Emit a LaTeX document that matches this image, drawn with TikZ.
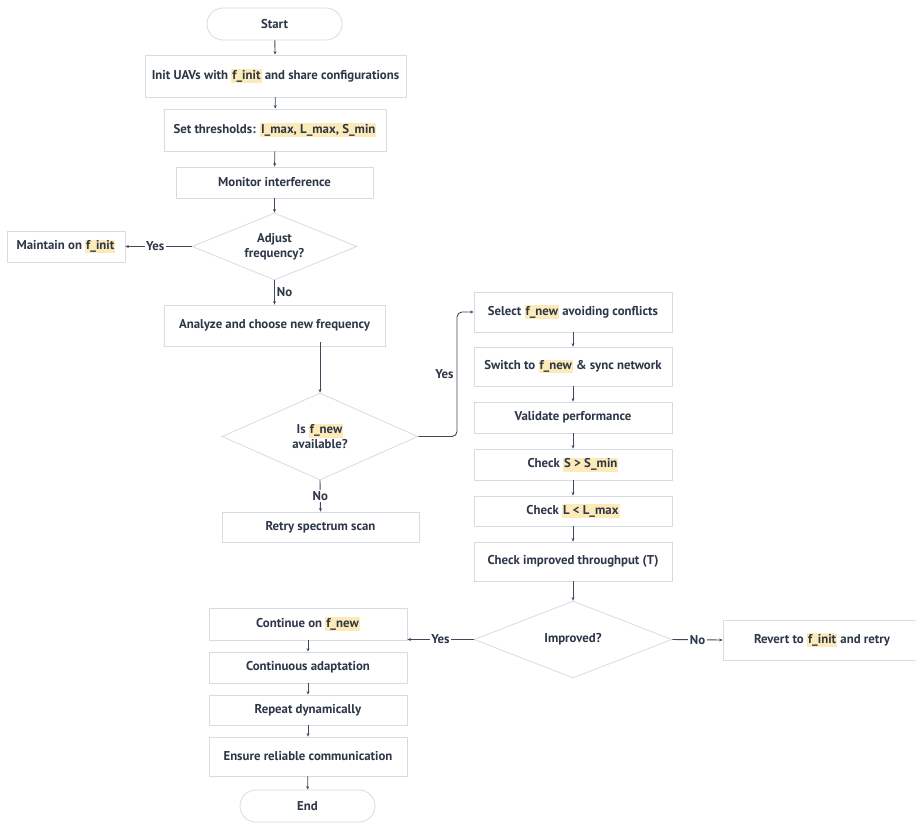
\documentclass[tikz,border=0pt]{standalone}
\usepackage{fontspec}
\setmainfont{PT Sans}
\usetikzlibrary{shapes.geometric,arrows.meta}
\definecolor{txt}{HTML}{2D3748}
\definecolor{bd}{HTML}{D5DCE4}
\definecolor{ln}{HTML}{3E4A5B}
\definecolor{hlc}{HTML}{FCEBB8}
\newcommand{\hl}[1]{{\setlength{\fboxsep}{1pt}\colorbox{hlc}{\vphantom{Ig}#1}}}
\begin{document}
\begin{tikzpicture}[x=1pt,y=-1pt,
  every node/.style={text=txt, font=\bfseries\fontsize{12.8}{15}\selectfont},
  box/.style={draw=bd, line width=0.8pt, fill=white, rectangle, inner sep=2pt},
  term/.style={draw=bd, line width=0.8pt, fill=white, rectangle, rounded corners=16pt, inner sep=2pt},
  dec/.style={draw=bd, line width=0.8pt, fill=white, diamond, inner sep=0pt, align=center},
  arr/.style={draw=ln, line width=0.9pt, -{Stealth[length=3.5pt,width=3pt]}},
  lbl/.style={fill=white, inner sep=1.5pt},
]
\useasboundingbox (0,0) rectangle (916,823);
\clip (0,0) rectangle (916,823);
% nodes
\node[term, minimum width=135pt, minimum height=32pt] (start) at (274.5,24) {Start};
\node[box, minimum width=261pt, minimum height=42pt] (init) at (275.5,76) {Init UAVs with \hl{f\_init} and share configurations};
\node[box, minimum width=222pt, minimum height=42pt] (thr) at (275,130) {Set thresholds: \hl{I\_max, L\_max, S\_min}};
\node[box, minimum width=197pt, minimum height=31pt] (mon) at (274.5,182.5) {Monitor interference};
\node[dec, aspect=2.46, minimum width=165pt, minimum height=67pt] (adj) at (274.5,246.5) {Adjust\\frequency?};
\node[box, minimum width=118pt, minimum height=31pt] (maint) at (66,246.5) {Maintain on \hl{f\_init}};
\node[box, minimum width=221pt, minimum height=41pt] (anal) at (274.5,325.5) {Analyze and choose new frequency};
\node[dec, aspect=2.25, minimum width=196pt, minimum height=87pt] (isnew) at (320,436.5) {Is \hl{f\_new}\\available?};
\node[box, minimum width=197pt, minimum height=30pt] (retry) at (320.5,527) {Retry spectrum scan};
\node[box, minimum width=198pt, minimum height=40pt] (sel) at (573,312) {Select \hl{f\_new} avoiding conflicts};
\node[box, minimum width=198pt, minimum height=39pt] (sw) at (573,366.5) {Switch to \hl{f\_new} \& sync network};
\node[box, minimum width=198pt, minimum height=31pt] (val) at (573,417.5) {Validate performance};
\node[box, minimum width=198pt, minimum height=31pt] (chs) at (573,464.5) {Check \hl{S > S\_min}};
\node[box, minimum width=198pt, minimum height=30pt] (chl) at (573,511) {Check \hl{L < L\_max}};
\node[box, minimum width=198pt, minimum height=39pt] (cht) at (573,561.5) {Check improved throughput (T)};
\node[dec, aspect=2.57, minimum width=198pt, minimum height=77pt] (imp) at (573,639.5) {Improved?};
\node[box, minimum width=198pt, minimum height=40pt] (rev) at (822,640) {Revert to \hl{f\_init} and retry};
\node[box, minimum width=198pt, minimum height=32pt] (cont) at (308,624) {Continue on \hl{f\_new}};
\node[box, minimum width=198pt, minimum height=31pt] (adapt) at (308,667.5) {Continuous adaptation};
\node[box, minimum width=198pt, minimum height=30pt] (rep) at (308,710) {Repeat dynamically};
\node[box, minimum width=198pt, minimum height=39pt] (ens) at (308,756.5) {Ensure reliable communication};
\node[term, minimum width=135pt, minimum height=32pt] (end) at (307.5,806) {End};
% connectors
\draw[arr] (start) -- (init);
\draw[arr] (init) -- (thr);
\draw[arr] (thr) -- (mon);
\draw[arr] (mon) -- (adj);
\draw[arr] (adj.west) -- node[lbl, pos=0.55]{Yes} (maint.east);
\draw[arr] (adj.south) -- node[right, inner sep=2pt]{No} (anal.north);
\draw[arr] ([yshift=4pt]anal.south -| isnew.north) -- (isnew.north);
\coordinate (yb) at (457,0);
\draw[arr, rounded corners=5pt] (isnew.east) -- (isnew.east -| yb) -- node[left, inner sep=3pt]{Yes} (sel.west -| yb) -- (sel.west);
\draw[arr] (isnew.south) -- node[lbl]{No} (retry.north);
\draw[arr] (sel) -- (sw);
\draw[arr] (sw) -- (val);
\draw[arr] (val) -- (chs);
\draw[arr] (chs) -- (chl);
\draw[arr] (chl) -- (cht);
\draw[arr] (cht) -- (imp);
\draw[arr] (imp.west) -- node[lbl]{Yes} (cont.east |- imp.west);
\draw[arr] (imp.east) -- node[lbl]{No} (rev.west);
\draw[arr] (cont) -- (adapt);
\draw[arr] (adapt) -- (rep);
\draw[arr] (rep) -- (ens);
\draw[arr] (ens) -- (end);
\end{tikzpicture}
\end{document}
